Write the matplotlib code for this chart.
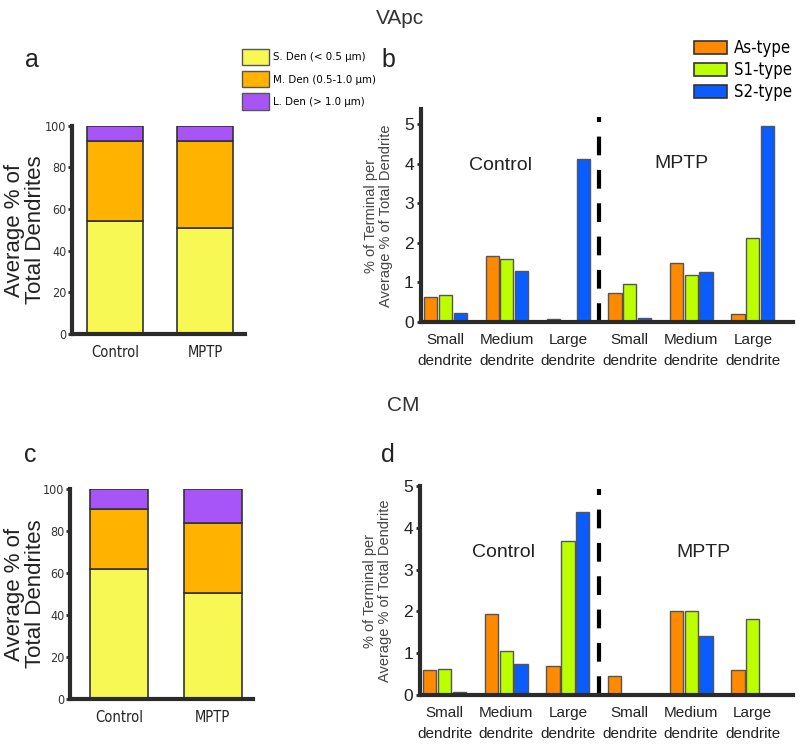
import numpy as np
import matplotlib
matplotlib.use('Agg')
import matplotlib.pyplot as plt
import matplotlib.patches as mpatches
from matplotlib.font_manager import FontProperties

plt.rcParams['font.family'] = ['Liberation Sans', 'DejaVu Sans']
narrow = ['DejaVu Sans', 'Liberation Sans']

# stacked bars (a, c)
groups = ['Control', 'MPTP']
stack_labels = ['S. Den (< 0.5 μm)', 'M. Den (0.5-1.0 μm)', 'L. Den (> 1.0 μm)']
a_small = [54.3, 51.0]
a_medium = [38.5, 41.8]
a_large = [7.2, 7.2]
c_small = [61.9, 50.5]
c_medium = [28.6, 33.3]
c_large = [9.5, 16.2]

# grouped bars (b, d)
cats = ['Small\ndendrite', 'Medium\ndendrite', 'Large\ndendrite',
        'Small\ndendrite', 'Medium\ndendrite', 'Large\ndendrite']
types = ['As-type', 'S1-type', 'S2-type']
b_as = [0.63, 1.67, 0.08, 0.73, 1.48, 0.20]
b_s1 = [0.68, 1.60, 0.00, 0.96, 1.18, 2.12]
b_s2 = [0.22, 1.29, 4.12, 0.10, 1.27, 4.95]
d_as = [0.61, 1.94, 0.70, 0.45, 2.02, 0.60]
d_s1 = [0.63, 1.05, 3.69, 0.03, 2.00, 1.81]
d_s2 = [0.07, 0.75, 4.38, 0.00, 1.42, 0.00]

stack_cols = ['#F8F855', '#FFB300', '#A855F7']
type_cols = ['#FF8A00', '#BBFF00', '#0A5CFF']
spine_c = '#2b2b2b'
edge_c = '#555555'


def nfont(size):
    return FontProperties(family=narrow, stretch='condensed', size=size)


fig = plt.figure(figsize=(8, 7.49), dpi=100)


def stacked(ax, small, medium, large, width, lab_x):
    x = np.arange(len(groups))
    bottom = np.zeros(len(groups))
    for vals, col in zip([small, medium, large], stack_cols):
        ax.bar(x, vals, width, bottom=bottom, color=col, edgecolor='#333333', linewidth=1.2)
        bottom = bottom + np.array(vals)
    ax.set_ylim(0, 100)
    ax.set_yticks([0, 20, 40, 60, 80, 100])
    ax.set_xticks(x)
    ax.set_xticklabels(groups)
    for lab in ax.get_xticklabels():
        lab.set_fontproperties(nfont(10.5))
        lab.set_color('#222222')
    for lab in ax.get_yticklabels():
        lab.set_fontproperties(nfont(9))
        lab.set_color('#333333')
    for s in ['top', 'right']:
        ax.spines[s].set_visible(False)
    for s in ['left', 'bottom']:
        ax.spines[s].set_linewidth(3)
        ax.spines[s].set_color(spine_c)
    ax.tick_params(axis='y', length=3, width=2, color=spine_c, pad=1)
    ax.tick_params(axis='x', length=0, pad=8)
    ax.set_ylabel('Average % of\nTotal Dendrites', fontsize=16, linespacing=1.0, color='#222222')
    ax.yaxis.set_label_coords(lab_x, 0.5)


def grouped(ax, s_as, s_s1, s_s2, ytop, ctrl_xy, mptp_xy, line_top):
    x = np.arange(len(cats))
    w = 0.24
    for off, vals, col in zip([-w, 0, w], [s_as, s_s1, s_s2], type_cols):
        v = np.array(vals)
        ax.bar(x[v > 0] + off, v[v > 0], 0.215, color=col, edgecolor=edge_c, linewidth=1)
    ax.set_xlim(-0.4, 5.65)
    ax.set_ylim(0, ytop)
    ax.set_yticks([0, 1, 2, 3, 4, 5])
    ax.set_xticks(x)
    ax.set_xticklabels(cats, fontsize=11, linespacing=1.6, color='#222222')
    ax.tick_params(axis='y', labelsize=12.5, length=3, width=2, color=spine_c, pad=2,
                   labelcolor='#222222')
    ax.tick_params(axis='x', length=0, pad=8)
    for s in ['top', 'right']:
        ax.spines[s].set_visible(False)
    for s in ['left', 'bottom']:
        ax.spines[s].set_linewidth(3)
        ax.spines[s].set_color(spine_c)
    ax.plot([2.5, 2.5], [0, line_top], color='black', linewidth=3,
            linestyle=(0, (4.5, 3.5)), clip_on=False)
    ax.text(ctrl_xy[0], ctrl_xy[1], 'Control', fontsize=14, ha='center', va='center', color='#222222')
    ax.text(mptp_xy[0], mptp_xy[1], 'MPTP', fontsize=14, ha='center', va='center', color='#222222')
    ax.set_ylabel('% of Terminal per\nAverage % of Total Dendrite', fontsize=10.5,
                  color='#444444', linespacing=1.05)
    ax.yaxis.set_label_coords(-0.075, 0.5)


ax_a = fig.add_axes([0.090, 0.554, 0.216, 0.278])
stacked(ax_a, a_small, a_medium, a_large, 0.62, -0.15)
ax_a.set_xlim(-0.48, 1.44)

ax_c = fig.add_axes([0.0875, 0.0668, 0.229, 0.280])
stacked(ax_c, c_small, c_medium, c_large, 0.62, -0.13)
ax_c.set_xlim(-0.52, 1.43)

ax_b = fig.add_axes([0.526, 0.570, 0.465, 0.2845])
grouped(ax_b, b_as, b_s1, b_s2, 5.38, (0.9, 3.96), (3.84, 4.0), 5.18)

ax_d = fig.add_axes([0.525, 0.0721, 0.466, 0.279])
grouped(ax_d, d_as, d_s1, d_s2, 5.0, (0.95, 3.42), (4.2, 3.42), 4.93)

# legend for a
h1 = [mpatches.Patch(facecolor=c, edgecolor='#555555', linewidth=1) for c in stack_cols]
fig.legend(h1, stack_labels, loc='upper left', bbox_to_anchor=(0.3025, 0.935),
           frameon=False, prop=nfont(8.2), borderpad=0, borderaxespad=0,
           handlelength=2.4, handleheight=1.8, labelspacing=0.55, handletextpad=0.35)

# legend for b
h2 = [mpatches.Patch(facecolor=c, edgecolor='#333333', linewidth=1.2) for c in type_cols]
fig.legend(h2, types, loc='upper left', bbox_to_anchor=(0.8675, 0.948),
           frameon=False, prop=nfont(12), borderpad=0, borderaxespad=0,
           handlelength=1.95, handleheight=0.8, labelspacing=0.25, handletextpad=0.45)

fig.text(0.5, 0.975, 'VApc', fontsize=15, ha='center', va='center', color='#333333')
fig.text(0.504, 0.459, 'CM', fontsize=15, ha='center', va='center', color='#333333')
fig.text(0.04, 0.92, 'a', fontsize=18, ha='center', va='center', color='#222222')
fig.text(0.486, 0.92, 'b', fontsize=18, ha='center', va='center', color='#222222')
fig.text(0.038, 0.393, 'c', fontsize=18, ha='center', va='center', color='#222222')
fig.text(0.485, 0.393, 'd', fontsize=18, ha='center', va='center', color='#222222')

fig.savefig('out.png', dpi=100)
